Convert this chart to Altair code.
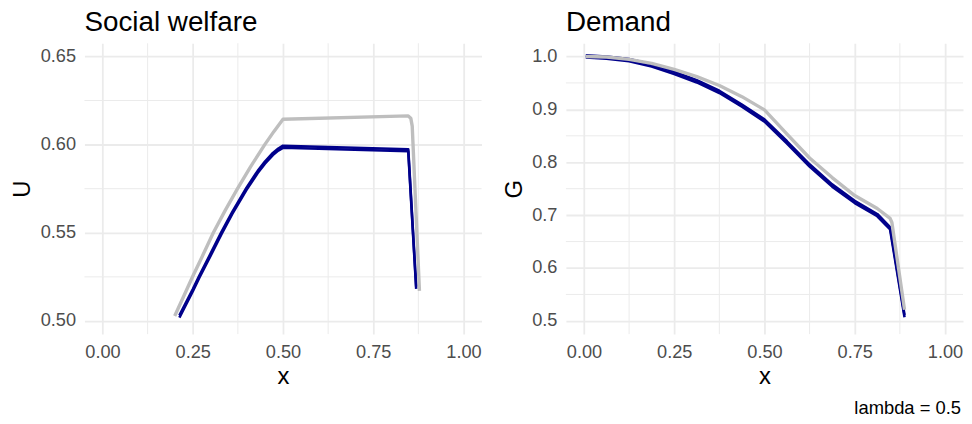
import altair as alt
import pandas as pd

# ---------------- data ----------------
# Social welfare panel (U vs x)
U_gray_x = [0.200, 0.225, 0.2495, 0.275, 0.307, 0.34, 0.374, 0.41, 0.4495, 0.475, 0.5,
            0.847, 0.854, 0.858, 0.878]
U_gray = [0.5028, 0.514, 0.525, 0.536, 0.550, 0.5627, 0.575, 0.5874, 0.600, 0.6075, 0.6144,
          0.6163, 0.6150, 0.6105, 0.517]
U_blue_x = [0.213, 0.25, 0.268, 0.30, 0.33, 0.36, 0.399, 0.43, 0.45, 0.472, 0.487, 0.5,
            0.847, 0.869]
U_blue_lo = [0.5019, 0.5167, 0.5244, 0.5372, 0.5494, 0.5608, 0.5744, 0.5839, 0.5892,
             0.5941, 0.5966, 0.5982, 0.5962, 0.5182]
U_blue_hi = [0.5031, 0.5179, 0.5256, 0.5384, 0.5506, 0.5620, 0.5756, 0.5851, 0.5904,
             0.5953, 0.5978, 0.5994, 0.5974, 0.5194]

# Demand panel (G vs x)
G_gray_x = [0.005, 0.0625, 0.125, 0.1875, 0.25, 0.3125, 0.375, 0.4375, 0.5,
            0.5625, 0.625, 0.6875, 0.75, 0.8125, 0.848, 0.853, 0.888]
G_gray = [1.000, 0.999, 0.9944, 0.987, 0.9756, 0.962, 0.945, 0.924, 0.899,
          0.853, 0.808, 0.771, 0.737, 0.7125, 0.694, 0.686, 0.521]
G_blue_x = [0.005, 0.0625, 0.125, 0.1875, 0.25, 0.3125, 0.375, 0.4375, 0.5,
            0.5625, 0.625, 0.6875, 0.75, 0.8125, 0.848, 0.888]
G_blue_lo = [0.9979, 0.9959, 0.9909, 0.9809, 0.9669, 0.9509, 0.9309, 0.9049, 0.8769,
             0.8354, 0.7919, 0.7539, 0.7229, 0.6979, 0.6729, 0.5069]
G_blue_hi = [1.0021, 1.0001, 0.9951, 0.9851, 0.9711, 0.9551, 0.9351, 0.9091, 0.8811,
             0.8396, 0.7961, 0.7581, 0.7271, 0.7021, 0.6771, 0.5111]

# axes / grid
x_ticks = [0.0, 0.25, 0.5, 0.75, 1.0]
x_minor = [0.125, 0.375, 0.625, 0.875]
U_ticks = [0.50, 0.55, 0.60, 0.65]
U_minor = [0.525, 0.575, 0.625]
G_ticks = [0.5, 0.6, 0.7, 0.8, 0.9, 1.0]
G_minor = [0.55, 0.65, 0.75, 0.85, 0.95]
x_domain = [-0.05, 1.05]
U_domain = [0.4925, 0.6575]
G_domain = [0.475, 1.025]

titles = ["Social welfare", "Demand"]
caption = "lambda = 0.5"

FONT = "Liberation Sans"
GRAY = "#BEBEBE"
BLUE = "#00008B"
GRID = "#EBEBEB"
W, H = 400, 293


def x_axis():
    return alt.Axis(values=x_ticks, format=".2f", title="x", titleY=50,
                    titleBaseline="alphabetic", labelPadding=10, labelFlush=False,
                    labelOverlap=False)


def y_axis(title, ticks, fmt, title_x, label_pad):
    return alt.Axis(values=ticks, format=fmt, title=title, titleX=title_x,
                    titleY=H / 2, titleAngle=270, titleBaseline="alphabetic",
                    titleAlign="center", labelPadding=label_pad, labelFlush=False,
                    labelOverlap=False)


def panel(title, yname, gx, gy, bx, blo, bhi, ticks, minor, domain, fmt, title_x, label_pad, extra=None):
    xs = alt.Scale(domain=x_domain, nice=False, zero=False)
    ys = alt.Scale(domain=domain, nice=False, zero=False)
    xa = x_axis()
    ya = y_axis(yname, ticks, fmt, title_x, label_pad)

    vminor = alt.Chart(pd.DataFrame({"v": x_minor})).mark_rule(
        color=GRID, strokeWidth=1.0).encode(
        x=alt.X("v:Q", scale=xs, axis=xa))
    hminor = alt.Chart(pd.DataFrame({"h": minor})).mark_rule(
        color=GRID, strokeWidth=1.0).encode(
        y=alt.Y("h:Q", scale=ys, axis=ya))

    bdf = pd.DataFrame({"x": bx, "lo": blo, "hi": bhi})
    blue_lo = alt.Chart(bdf).mark_line(
        color=BLUE, strokeWidth=2.6, strokeJoin="round", strokeCap="butt").encode(
        x=alt.X("x:Q", scale=xs, axis=xa),
        y=alt.Y("lo:Q", scale=ys, axis=ya),
        order=alt.Order("x:Q"))
    blue_hi = alt.Chart(bdf).mark_line(
        color=BLUE, strokeWidth=2.6, strokeJoin="round", strokeCap="butt").encode(
        x=alt.X("x:Q", scale=xs, axis=xa),
        y=alt.Y("hi:Q", scale=ys, axis=ya),
        order=alt.Order("x:Q"))

    gdf = pd.DataFrame({"x": gx, "y": gy})
    gray = alt.Chart(gdf).mark_line(
        color=GRAY, strokeWidth=3.4, strokeJoin="round", strokeCap="butt").encode(
        x=alt.X("x:Q", scale=xs, axis=xa),
        y=alt.Y("y:Q", scale=ys, axis=ya),
        order=alt.Order("x:Q"))

    ttl = alt.Chart(pd.DataFrame({"t": [title]})).mark_text(
        align="left", baseline="alphabetic", fontSize=28, font=FONT,
        color="black").encode(x=alt.value(0), y=alt.value(-12), text="t:N")

    layers = [vminor, hminor, blue_lo, blue_hi, gray, ttl]
    if extra is not None:
        layers.append(extra)
    return alt.layer(*layers).properties(width=W, height=H)


cap = alt.Chart(pd.DataFrame({"t": [caption]})).mark_text(
    align="right", baseline="alphabetic", fontSize=18.5, font=FONT, color="black").encode(
    x=alt.value(398), y=alt.value(373), text="t:N")

left = panel(titles[0], "U", U_gray_x, U_gray, U_blue_x, U_blue_lo, U_blue_hi,
             U_ticks, U_minor, U_domain, ".2f", -55, 9)
right = panel(titles[1], "G", G_gray_x, G_gray, G_blue_x, G_blue_lo, G_blue_hi,
              G_ticks, G_minor, G_domain, ".1f", -45, 9, extra=cap)

chart = alt.hconcat(left, right, spacing=85, bounds="flush").properties(
    padding={"left": 3, "top": 0, "right": 0, "bottom": 0}
).configure(font=FONT).configure_view(stroke=None).configure_axis(
    domain=False, ticks=False, tickSize=0, grid=True, gridColor=GRID, gridWidth=1.8,
    labelFont=FONT, labelFontSize=18.3, labelColor="#4D4D4D",
    titleFont=FONT, titleFontSize=24, titleFontWeight="normal", titleColor="black")

chart.save("out.html", embed_options={"renderer": "svg", "actions": False})
